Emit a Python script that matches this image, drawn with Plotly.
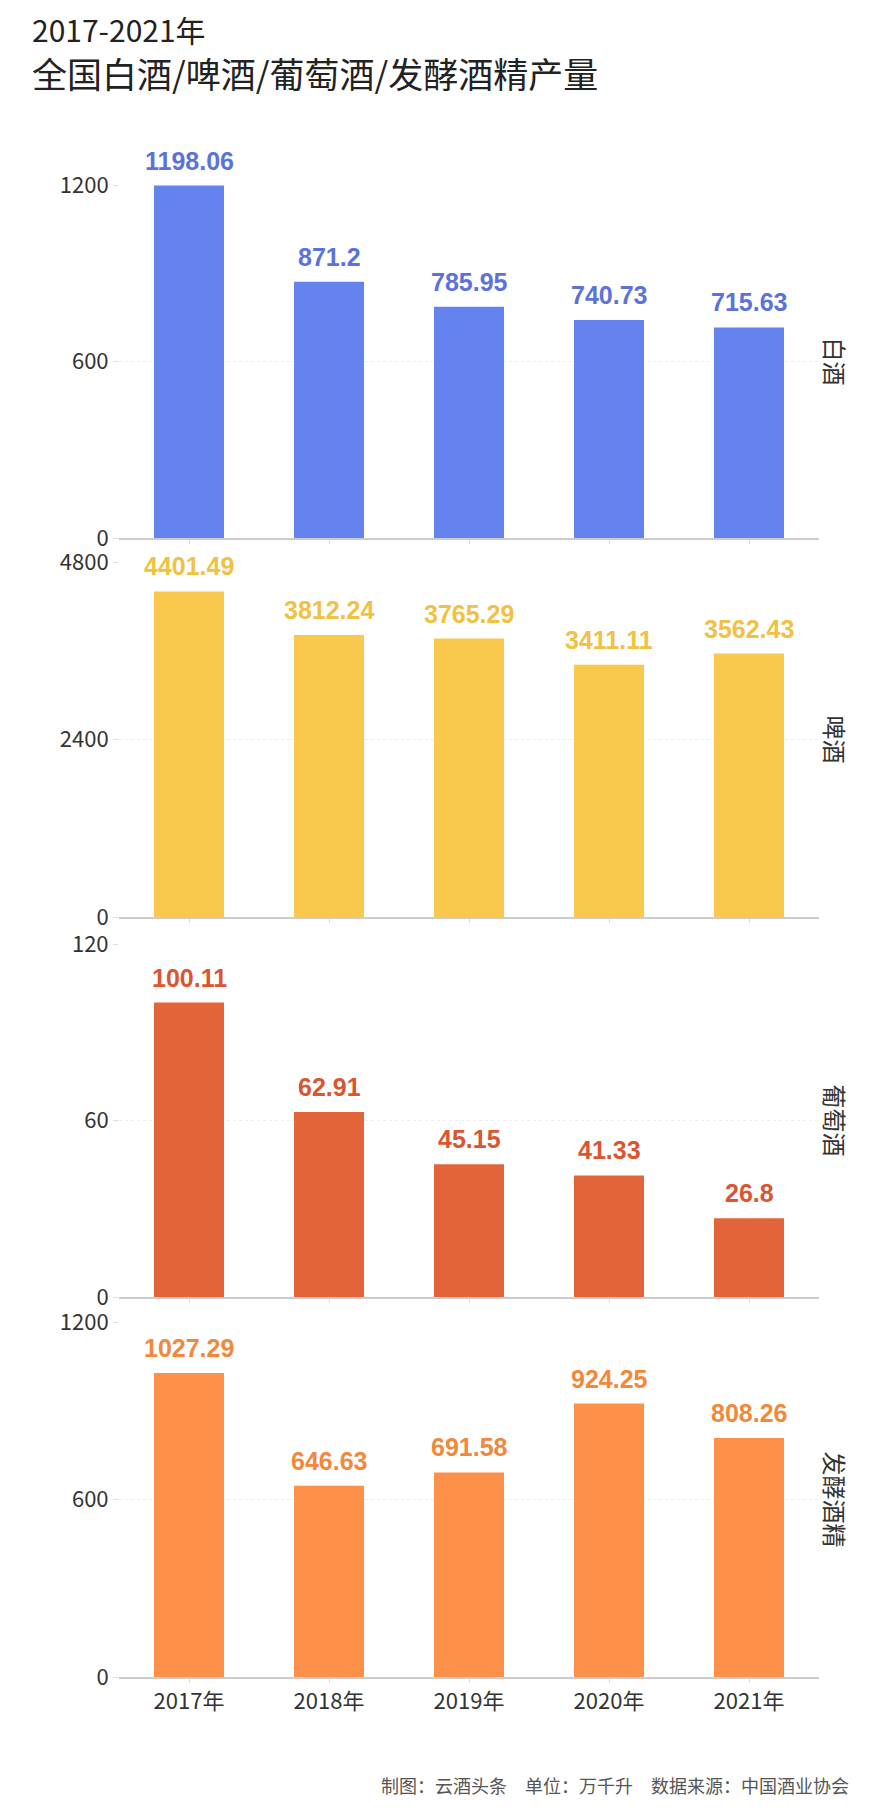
import plotly.graph_objects as go
from plotly.subplots import make_subplots

years = ["2017年", "2018年", "2019年", "2020年", "2021年"]
baijiu = [1198.06, 871.2, 785.95, 740.73, 715.63]
pijiu = [4401.49, 3812.24, 3765.29, 3411.11, 3562.43]
putaojiu = [100.11, 62.91, 45.15, 41.33, 26.8]
jiujing = [1027.29, 646.63, 691.58, 924.25, 808.26]
value_labels = [
    ["1198.06", "871.2", "785.95", "740.73", "715.63"],
    ["4401.49", "3812.24", "3765.29", "3411.11", "3562.43"],
    ["100.11", "62.91", "45.15", "41.33", "26.8"],
    ["1027.29", "646.63", "691.58", "924.25", "808.26"],
]
names = ["白酒", "啤酒", "葡萄酒", "发酵酒精"]
axis_max = [1200, 4800, 120, 1200]
axis_ticks = [[0, 600, 1200], [0, 2400, 4800], [0, 60, 120], [0, 600, 1200]]
series = [baijiu, pijiu, putaojiu, jiujing]

bar_colors = ["#6583EE", "#F9C84C", "#E4643A", "#FD914A"]
label_colors = ["#5A72DA", "#F0C142", "#DA5530", "#F2883C"]

W, H = 887, 1816
OFF = 8  # page body margin
PL, PR = 119 - OFF, 819 - OFF
PT, PB = 185 - OFF, 1677 - OFF
PW = PR - PL
PH = PB - PT

def fy(ypx):
    return (PB - (ypx - OFF)) / PH

def fx(xpx):
    return ((xpx - OFF) - PL) / PW

panels_px = [(185, 538), (562, 917), (944, 1297), (1322, 1677)]

fig = make_subplots(rows=4, cols=1, shared_xaxes=True, vertical_spacing=0.02)

cjk = "Noto Sans CJK SC, Noto Sans, sans-serif"
numfont = "Liberation Sans, Arial, sans-serif"

for i in range(4):
    fig.add_trace(
        go.Bar(
            x=years, y=series[i], marker=dict(color=bar_colors[i], line=dict(width=0)),
            width=0.5, hoverinfo="x+y", showlegend=False, cliponaxis=False,
        ),
        row=i + 1, col=1,
    )
    yname = "yaxis" if i == 0 else f"yaxis{i+1}"
    top, bot = panels_px[i]
    fig.layout[yname].update(
        domain=[fy(bot), fy(top)],
        range=[0, axis_max[i]],
        tickvals=axis_ticks[i],
        ticks="outside", ticklen=5, tickcolor="#dddddd",
        tickfont=dict(family=cjk, size=22, color="#333333"),
        showgrid=True, gridcolor="#eeeeee", griddash="dot",
        zeroline=False, showline=False, fixedrange=True,
    )
    xname = "xaxis" if i == 0 else f"xaxis{i+1}"
    fig.layout[xname].update(
        showline=True, linecolor="#cccccc", linewidth=1.5,
        ticks="outside", ticklen=4, tickcolor="#dddddd",
        tickfont=dict(family=cjk, size=22, color="#333333"),
        showgrid=False, fixedrange=True,
    )
    yref = "y" if i == 0 else f"y{i+1}"
    xref = "x" if i == 0 else f"x{i+1}"
    for xv, yv, lab in zip(years, series[i], value_labels[i]):
        fig.add_annotation(
            x=xv, y=yv, xref=xref, yref=yref, text=f"<b>{lab}</b>",
            showarrow=False, yanchor="bottom", yshift=9,
            font=dict(family=numfont, size=25, color=label_colors[i]),
        )
    fig.add_annotation(
        x=fx(835), y=0.5, xref="paper", yref=f"{yref} domain", text=names[i],
        textangle=90, showarrow=False, xanchor="center", yanchor="middle",
        font=dict(family=cjk, size=24, color="#333333"),
    )

fig.add_annotation(
    x=fx(30), y=fy(29), xref="paper", yref="paper", text="2017-2021年",
    showarrow=False, xanchor="left", yanchor="middle",
    font=dict(family=cjk, size=30, color="#222222"),
)
fig.add_annotation(
    x=fx(30), y=fy(73), xref="paper", yref="paper",
    text="全国白酒/啤酒/葡萄酒/发酵酒精产量",
    showarrow=False, xanchor="left", yanchor="middle",
    font=dict(family=cjk, size=35, color="#222222"),
)
fig.add_annotation(
    x=fx(851), y=fy(1785), xref="paper", yref="paper",
    text="制图：云酒头条　单位：万千升　数据来源：中国酒业协会",
    showarrow=False, xanchor="right", yanchor="middle",
    font=dict(family=cjk, size=18, color="#555555"),
)

fig.update_layout(
    width=W, height=H,
    margin=dict(l=PL, r=W - PR, t=PT, b=H - PB, pad=0),
    paper_bgcolor="white", plot_bgcolor="white",
    bargap=0.5, showlegend=False,
)

fig.write_html("out.html")
